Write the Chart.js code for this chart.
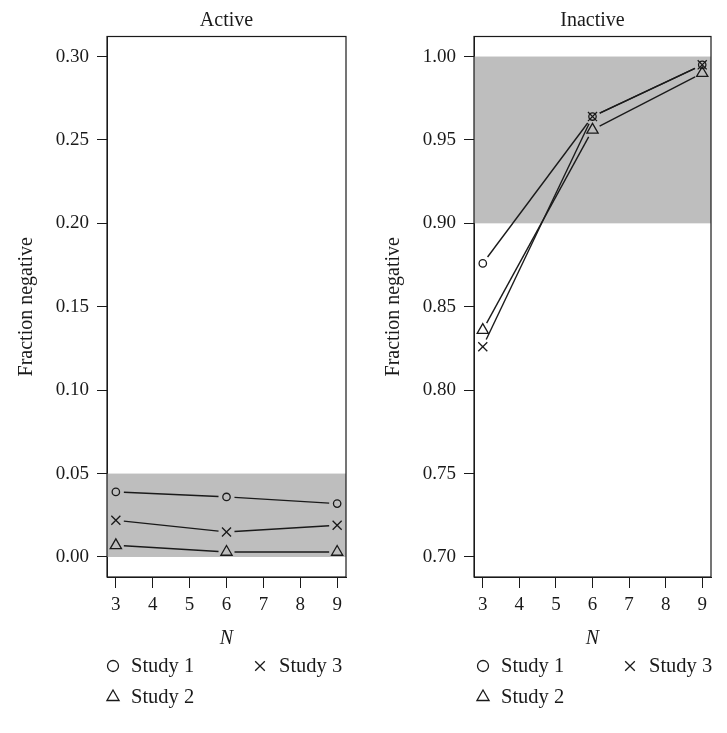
<!DOCTYPE html>
<html><head><meta charset="utf-8">
<script src="https://cdn.jsdelivr.net/npm/chart.js@4/dist/chart.umd.min.js"></script>
<style>
html,body{margin:0;padding:0;background:#fff;}
#wrap{position:relative;width:727px;height:733px;overflow:hidden;}
.panel{position:absolute;top:0;height:733px;}
</style></head><body>
<div id="wrap">
<div class="panel" style="left:0;width:363px"><canvas id="c1"></canvas></div>
<div class="panel" style="left:363px;width:364px"><canvas id="c2"></canvas></div>
</div>
<script>
// ---- data ----
const nValues = [3, 6, 9];
const xTickValues = [3, 4, 5, 6, 7, 8, 9];
const seriesNames = ['Study 1', 'Study 2', 'Study 3'];
const activeStudy1 = [0.039, 0.036, 0.032];
const activeStudy2 = [0.007, 0.003, 0.003];
const activeStudy3 = [0.022, 0.015, 0.019];
const inactiveStudy1 = [0.876, 0.964, 0.995];
const inactiveStudy2 = [0.836, 0.956, 0.990];
const inactiveStudy3 = [0.826, 0.964, 0.995];
const activeYTicks = [0.00, 0.05, 0.10, 0.15, 0.20, 0.25, 0.30];
const inactiveYTicks = [0.70, 0.75, 0.80, 0.85, 0.90, 0.95, 1.00];
const activeBand = [0.00, 0.05];
const inactiveBand = [0.90, 1.00];
const panelTitles = ['Active', 'Inactive'];
const xTitle = 'N';
const yTitle = 'Fraction negative';

// ---- styles ----
const FAM = "'Liberation Serif','DejaVu Serif',serif";
const tickFont = { family: FAM, size: 19 };
const titleFont = { family: FAM, size: 20 };
const INK = '#1a1a1a';
const markerStyles = ['circle', 'triangle', 'crossRot'];
const markerRadii = [3.7, 6.5, 6.4];

function pairs(xs, ys) { return xs.map((x, i) => ({ x: x, y: ys[i] })); }

const bandPlugin = {
  id: 'band',
  beforeDatasetsDraw(chart, args, opts) {
    const { ctx, chartArea: a, scales: { y } } = chart;
    const y0 = y.getPixelForValue(opts.range[0]);
    const y1 = y.getPixelForValue(opts.range[1]);
    ctx.save();
    ctx.fillStyle = '#bebebe';
    ctx.fillRect(a.left, y1, a.right - a.left, y0 - y1);
    ctx.restore();
  }
};

const gapLinePlugin = {
  id: 'gapLines',
  afterDatasetsDraw(chart) {
    const ctx = chart.ctx;
    const gap = 8;
    ctx.save();
    ctx.strokeStyle = INK;
    ctx.lineWidth = 1.4;
    chart.data.datasets.forEach((ds, di) => {
      const pts = chart.getDatasetMeta(di).data;
      for (let i = 0; i < pts.length - 1; i++) {
        const p = pts[i], q = pts[i + 1];
        const dx = q.x - p.x, dy = q.y - p.y;
        const len = Math.hypot(dx, dy);
        if (len <= 2 * gap) continue;
        const ux = dx / len, uy = dy / len;
        ctx.beginPath();
        ctx.moveTo(p.x + ux * gap, p.y + uy * gap);
        ctx.lineTo(q.x - ux * gap, q.y - uy * gap);
        ctx.stroke();
      }
    });
    ctx.restore();
  }
};

const boxPlugin = {
  id: 'box',
  afterDraw(chart, args, opts) {
    const { ctx, chartArea: a } = chart;
    ctx.save();
    ctx.strokeStyle = INK;
    ctx.lineWidth = 1.2;
    ctx.strokeRect(a.left, a.top, a.right - a.left, a.bottom - a.top);
    // panel title, centred over the plot box
    ctx.fillStyle = INK;
    ctx.font = titleFont.size + 'px ' + FAM;
    ctx.textAlign = 'center';
    ctx.textBaseline = 'middle';
    ctx.fillText(opts.text, (a.left + a.right) / 2, 21);
    ctx.restore();
  }
};

function drawMarker(ctx, style, x, y, r) {
  ctx.beginPath();
  if (style === 'circle') {
    ctx.arc(x, y, r, 0, Math.PI * 2);
  } else if (style === 'triangle') {
    const h = r * 1.5, w = r * 1.732;
    ctx.moveTo(x, y - r);
    ctx.lineTo(x - w / 2, y - r + h);
    ctx.lineTo(x + w / 2, y - r + h);
    ctx.closePath();
  } else {
    const d = r * 0.7071;
    ctx.moveTo(x - d, y - d); ctx.lineTo(x + d, y + d);
    ctx.moveTo(x + d, y - d); ctx.lineTo(x - d, y + d);
  }
  ctx.stroke();
}

const keyPlugin = {
  id: 'key',
  afterDraw(chart, args, opts) {
    const { ctx, chartArea: a } = chart;
    const L = a.left + (opts.shift || 0);
    const items = [
      { i: 0, mx: L + 6, tx: L + 24, y: 666 },
      { i: 2, mx: L + 153, tx: L + 172, y: 666 },
      { i: 1, mx: L + 6, tx: L + 24, y: 697 }
    ];
    ctx.save();
    ctx.strokeStyle = INK;
    ctx.lineWidth = 1.3;
    ctx.fillStyle = INK;
    ctx.font = '20.5px ' + FAM;
    ctx.textBaseline = 'middle';
    ctx.textAlign = 'left';
    items.forEach(it => {
      const st = markerStyles[it.i];
      const r = st === 'circle' ? 5.5 : (st === 'triangle' ? 7 : 6.8);
      drawMarker(ctx, st, it.mx, it.y, r);
      ctx.fillText(seriesNames[it.i], it.tx, it.y + 1);
    });
    ctx.restore();
  }
};

function makeChart(id, title, s1, s2, s3, yTicks, band, yAxisWidth, yTitlePad, rightPad, keyShift) {
  const span = yTicks[yTicks.length - 1] - yTicks[0];
  const ext = span * 0.04;
  const xExt = (nValues[nValues.length - 1] - nValues[0]) * 0.04;
  const series = [s1, s2, s3];
  return new Chart(document.getElementById(id), {
    type: 'scatter',
    data: {
      datasets: series.map((s, i) => ({
        label: seriesNames[i],
        data: pairs(nValues, s),
        pointStyle: markerStyles[i],
        pointRadius: markerRadii[i],
        pointHoverRadius: markerRadii[i],
        pointBorderColor: INK,
        pointBackgroundColor: 'rgba(0,0,0,0)',
        pointBorderWidth: 1.3,
        showLine: false
      }))
    },
    options: {
      responsive: true,
      maintainAspectRatio: false,
      animation: false,
      events: [],
      layout: { padding: { left: 0, right: rightPad, top: 36.5, bottom: 76 } },
      plugins: {
        legend: { display: false },
        tooltip: { enabled: false },
        title: { display: false },
        band: { range: band },
        box: { text: title },
        key: { shift: keyShift }
      },
      scales: {
        x: {
          type: 'linear',
          min: nValues[0] - xExt,
          max: nValues[nValues.length - 1] + xExt,
          afterBuildTicks: s => { s.ticks = xTickValues.map(v => ({ value: v })); },
          afterFit: s => { s.height = 80; },
          ticks: { color: INK, font: tickFont, padding: 6, maxRotation: 0, callback: v => String(v) },
          grid: { drawOnChartArea: false, drawTicks: true, tickLength: 11, color: INK, lineWidth: 1 },
          border: { display: true, color: INK, width: 1 },
          title: { display: true, text: xTitle, color: INK, font: { family: FAM, size: 20, style: 'italic' }, padding: { top: 0, bottom: 6 } }
        },
        y: {
          type: 'linear',
          min: yTicks[0] - ext,
          max: yTicks[yTicks.length - 1] + ext,
          afterBuildTicks: s => { s.ticks = yTicks.map(v => ({ value: v })); },
          afterFit: s => { s.width = yAxisWidth; },
          ticks: { color: INK, font: tickFont, padding: 8, callback: v => Number(v).toFixed(2) },
          grid: { drawOnChartArea: false, drawTicks: true, tickLength: 10, color: INK, lineWidth: 1 },
          border: { display: true, color: INK, width: 1 },
          title: { display: true, text: yTitle, color: INK, font: titleFont, padding: { top: yTitlePad, bottom: 0 } }
        }
      }
    },
    plugins: [bandPlugin, gapLinePlugin, boxPlugin, keyPlugin]
  });
}

makeChart('c1', panelTitles[0], activeStudy1, activeStudy2, activeStudy3, activeYTicks, activeBand, 107, 15, 17, 0);
makeChart('c2', panelTitles[1], inactiveStudy1, inactiveStudy2, inactiveStudy3, inactiveYTicks, inactiveBand, 111, 19, 16, 3);
</script>
</body></html>
